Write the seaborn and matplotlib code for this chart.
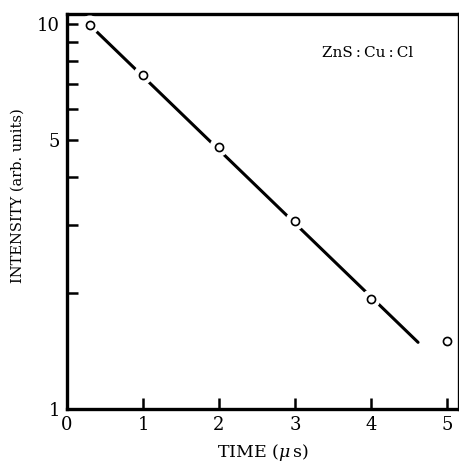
import numpy as np
import pandas as pd
import matplotlib
matplotlib.use("Agg")
import matplotlib.pyplot as plt
import seaborn as sns
from matplotlib.ticker import FixedLocator, FixedFormatter, NullFormatter

time_us = [0.3, 1, 2, 3, 4, 5]
intensity = [9.94, 7.37, 4.79, 3.08, 1.93, 1.50]

# Straight-line fit drawn through the points
fit_time = [0.3, 4.62]
fit_intensity = [9.94, 1.49]

sns.set_style("ticks")
plt.rcParams['font.family'] = ['DejaVu Serif']
plt.rcParams['mathtext.fontset'] = 'dejavuserif'

pts = pd.DataFrame({"time": time_us, "intensity": intensity})
fit = pd.DataFrame({"time": fit_time, "intensity": fit_intensity})

fig = plt.figure(figsize=(4.6, 4.66), dpi=100)
ax = fig.add_axes([0.1457, 0.1223, 0.852, 0.8477])

sns.lineplot(data=fit, x="time", y="intensity", ax=ax, color="black",
             linewidth=2.2, zorder=2)
# white halo to break the line around each circle
sns.scatterplot(data=pts, x="time", y="intensity", ax=ax, s=190,
                color="white", edgecolor="none", zorder=3)
sns.scatterplot(data=pts, x="time", y="intensity", ax=ax, s=34,
                facecolor="white", edgecolor="black", linewidth=1.2, zorder=4)

ax.set_yscale("log")
ax.set_xlim(0, 5.158)
ax.set_ylim(1, 10.62)

ax.set_xticks([0, 1, 2, 3, 4, 5])
ax.yaxis.set_major_locator(FixedLocator([1, 5, 10]))
ax.yaxis.set_minor_locator(FixedLocator([2, 3, 4, 6, 7, 8, 9]))
ax.yaxis.set_major_formatter(FixedFormatter(["1", "5", "10"]))
ax.yaxis.set_minor_formatter(NullFormatter())

ax.tick_params(axis="both", which="major", direction="in", length=8,
               width=1.8, labelsize=13, pad=5, color="black",
               labelcolor="black")
ax.tick_params(axis="y", which="minor", direction="in", length=8, width=1.8,
               color="black")
ax.tick_params(axis="x", which="minor", bottom=False)

for sp in ax.spines.values():
    sp.set_linewidth(2.4)
    sp.set_color("black")
    sp.set_visible(True)

ax.set_xlabel(r"TIME ($\mu\,$s)", fontsize=12.5, labelpad=6, color="black")
ax.set_ylabel("INTENSITY (arb. units)", fontsize=10.5, color="black")
ax.yaxis.set_label_coords(-0.107, 0.54)

ax.text(0.768, 0.9, "ZnS\u2009:\u2009Cu\u2009:\u2009Cl", transform=ax.transAxes,
        fontsize=11, ha="center", va="center", color="black")

fig.savefig("out.png", dpi=100)
